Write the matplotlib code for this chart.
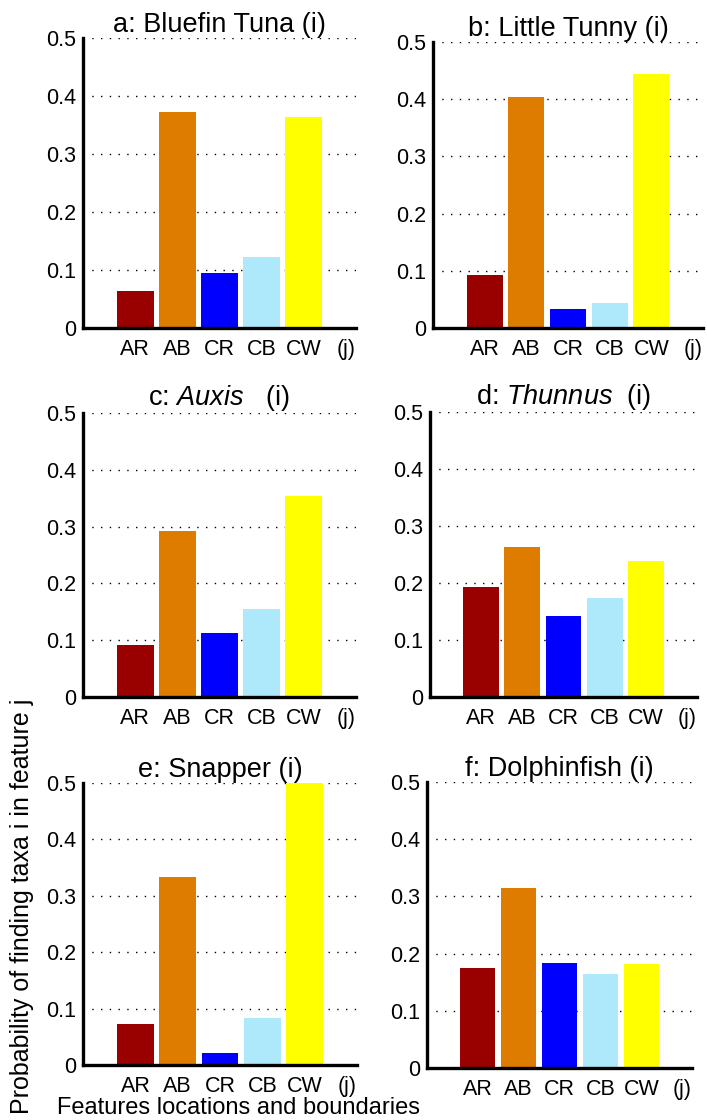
import matplotlib.pyplot as plt
import numpy as np

plt.rcParams['font.family'] = 'Liberation Sans'
plt.rcParams['mathtext.fontset'] = 'custom'
plt.rcParams['mathtext.it'] = 'Liberation Sans:italic'
plt.rcParams['mathtext.rm'] = 'Liberation Sans'

# data
features = ['AR', 'AB', 'CR', 'CB', 'CW']
bar_colors = ['#990000', '#de7c00', '#0000ff', '#ade9fb', '#ffff00']

titles = ['a: Bluefin Tuna (i)', 'b: Little Tunny (i)',
          r'c: $\it{Auxis}$   (i)', r'd: $\it{Thunnus}$  (i)',
          'e: Snapper (i)', 'f: Dolphinfish (i)']

bluefin = [0.063, 0.373, 0.094, 0.122, 0.363]
little_tunny = [0.093, 0.404, 0.033, 0.044, 0.444]
auxis = [0.092, 0.293, 0.113, 0.155, 0.353]
thunnus = [0.193, 0.263, 0.142, 0.173, 0.239]
snapper = [0.073, 0.333, 0.022, 0.083, 0.500]
dolphinfish = [0.174, 0.314, 0.184, 0.164, 0.182]

yticks = [0, 0.1, 0.2, 0.3, 0.4, 0.5]
ytick_labels = ['0', '0.1', '0.2', '0.3', '0.4', '0.5']

# panel boxes in pixels: left, top, right, bottom
W, H = 707, 1120
boxes = [(83, 38, 356, 328), (433, 42, 703, 328),
         (83, 413, 356, 697), (430, 412, 697, 697),
         (83, 783, 357, 1065), (427, 782, 692, 1068)]

fig = plt.figure(figsize=(W / 100, H / 100), dpi=100)

all_vals = [bluefin, little_tunny, auxis, thunnus, snapper, dolphinfish]
x = np.arange(1, 6)

for vals, title, (l, t, r, b) in zip(all_vals, titles, boxes):
    ax = fig.add_axes([l / W, 1 - b / H, (r - l) / W, (b - t) / H])
    ax.bar(x, vals, width=0.87, color=bar_colors, edgecolor='none', zorder=2)
    ax.set_xlim(-0.24, 6.24)
    ax.set_ylim(0, 0.5)
    ax.set_xticks(list(range(1, 7)))
    ax.set_xticklabels(features + ['(j)'])
    ax.set_yticks(yticks)
    ax.set_yticklabels(ytick_labels)
    ax.tick_params(axis='both', length=0, labelsize=15.5)
    ax.tick_params(axis='x', pad=8)
    ax.tick_params(axis='y', pad=5)
    ax.yaxis.grid(True, linestyle=(0, (1, 5.3)), color='k', lw=1.0)
    ax.set_axisbelow(True)
    for s in ['top', 'right']:
        ax.spines[s].set_visible(False)
    for s in ['left', 'bottom']:
        ax.spines[s].set_linewidth(2.4)
        ax.spines[s].set_zorder(3)
    ax.set_title(title, fontsize=19.5, pad=3.5)

fig.text(22 / W, 1 - 906 / H, 'Probability of finding taxa i in feature j',
         rotation=90, ha='center', va='center', fontsize=18)
fig.text(238 / W, 1 - 1108 / H, 'Features locations and boundaries',
         ha='center', va='center', fontsize=17)

plt.savefig('out.png', dpi=100)
plt.close()
